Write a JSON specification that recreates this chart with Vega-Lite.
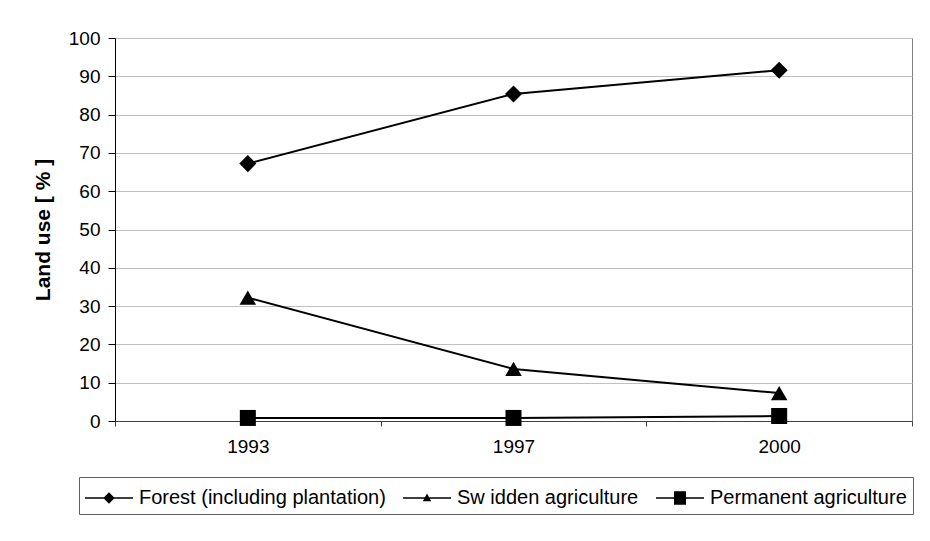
{
  "$schema": "https://vega.github.io/schema/vega-lite/v6.json",
  "width": 797,
  "height": 383,
  "autosize": {"type": "none"},
  "padding": {"left": 115, "top": 38, "right": 18, "bottom": 120},
  "background": "white",
  "data": {
    "values": [
      {"year": "1993", "series": "Forest (including plantation)", "pct": 67.2},
      {"year": "1997", "series": "Forest (including plantation)", "pct": 85.4},
      {"year": "2000", "series": "Forest (including plantation)", "pct": 91.6},
      {"year": "1993", "series": "Sw idden agriculture", "pct": 32.2},
      {"year": "1997", "series": "Sw idden agriculture", "pct": 13.6},
      {"year": "2000", "series": "Sw idden agriculture", "pct": 7.3},
      {"year": "1993", "series": "Permanent agriculture", "pct": 0.8},
      {"year": "1997", "series": "Permanent agriculture", "pct": 0.8},
      {"year": "2000", "series": "Permanent agriculture", "pct": 1.3}
    ]
  },
  "encoding": {
    "x": {
      "field": "year",
      "type": "ordinal",
      "sort": ["1993", "1997", "2000"],
      "scale": {"paddingInner": 0, "paddingOuter": 0},
      "axis": {
        "title": null,
        "labelAngle": 0,
        "tickBand": "extent",
        "grid": false,
        "tickSize": 5,
        "labelPadding": 11,
        "domainColor": "#404040",
        "tickColor": "#404040"
      }
    },
    "y": {
      "field": "pct",
      "type": "quantitative",
      "scale": {"domain": [0, 100], "nice": false},
      "axis": {
        "title": "Land use [ % ]",
        "titleFontWeight": "bold",
        "titleFontSize": 21,
        "titlePadding": 15,
        "values": [0, 10, 20, 30, 40, 50, 60, 70, 80, 90, 100],
        "tickSize": 7,
        "labelPadding": 8,
        "gridColor": "#c0c0c0",
        "domainColor": "#000000",
        "tickColor": "#000000"
      }
    }
  },
  "layer": [
    {
      "mark": {"type": "line", "color": "black", "strokeWidth": 2},
      "encoding": {"detail": {"field": "series"}}
    },
    {
      "mark": {"type": "point", "filled": true, "opacity": 1, "color": "black"},
      "encoding": {
        "shape": {
          "field": "series",
          "type": "nominal",
          "sort": ["Forest (including plantation)", "Sw idden agriculture", "Permanent agriculture"],
          "scale": {"range": ["diamond", "triangle-up", "square"]},
          "legend": null
        },
        "size": {
          "field": "series",
          "type": "nominal",
          "sort": ["Forest (including plantation)", "Sw idden agriculture", "Permanent agriculture"],
          "scale": {"range": [290, 256, 361]},
          "legend": null
        }
      }
    },
    {
      "mark": {"type": "point", "filled": true, "opacity": 0, "color": "black", "size": 900},
      "encoding": {
        "shape": {
          "field": "series",
          "type": "nominal",
          "sort": ["Forest (including plantation)", "Sw idden agriculture", "Permanent agriculture"],
          "scale": {
            "range": [
              "M-1,-0.05H2.2V0.05H-1Z M0.6,-0.38L0.98,0L0.6,0.38L0.22,0Z",
              "M-1,-0.05H2.2V0.05H-1Z M0.6,-0.3L0.88,0.22L0.32,0.22Z",
              "M-1,-0.05H2.2V0.05H-1Z M0.2,-0.45H1V0.45H0.2Z"
            ]
          },
          "legend": {
            "title": null,
            "orient": "none",
            "legendX": -36,
            "legendY": 439,
            "direction": "horizontal",
            "columns": 3,
            "columnPadding": 17,
            "padding": 6,
            "strokeColor": "#606060",
            "fillColor": "white",
            "symbolSize": 900,
            "symbolOpacity": 1,
            "symbolFillColor": "black",
            "symbolStrokeWidth": 0,
            "labelOffset": 24,
            "labelLimit": 400,
            "labelFontSize": 20,
            "labelColor": "black"
          }
        }
      }
    }
  ],
  "resolve": {"scale": {"shape": "independent"}},
  "config": {
    "font": "Liberation Sans",
    "view": {"stroke": "#808080", "strokeWidth": 1},
    "axis": {
      "labelFont": "Liberation Sans",
      "labelFontSize": 19,
      "labelColor": "black",
      "titleFont": "Liberation Sans",
      "titleColor": "black"
    },
    "legend": {"labelFont": "Liberation Sans"}
  }
}
